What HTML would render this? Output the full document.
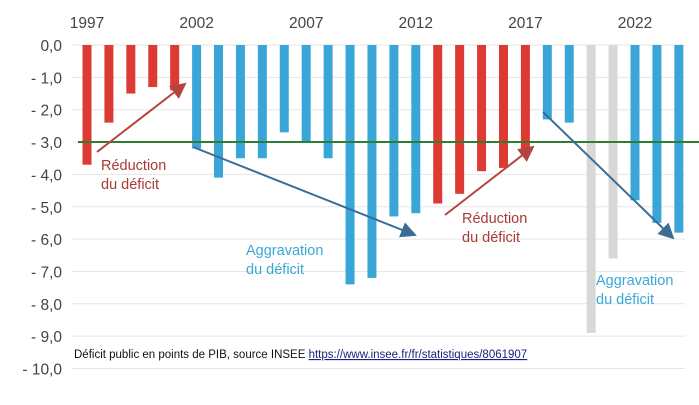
<!DOCTYPE html><html><head><meta charset="utf-8"><style>body{margin:0;background:#fff}svg{font-family:"Liberation Sans",sans-serif}</style></head><body>
<svg width="699" height="400" id="c">
<defs>
<marker id="ar" markerWidth="8" markerHeight="8" refX="7" refY="4" orient="auto"><path d="M0,0 L8,4 L0,8 z" fill="#b5443f"/></marker>
<marker id="ab" markerWidth="8" markerHeight="8" refX="7" refY="4" orient="auto"><path d="M0,0 L8,4 L0,8 z" fill="#3a6d96"/></marker>
</defs>
<g id="grid"></g><g id="bars"></g>
<line x1="78" x2="699" y1="142" y2="142" stroke="#2e7d32" stroke-width="2"/>
<line x1="97" y1="152" x2="185" y2="84" stroke="#b5443f" stroke-width="2" marker-end="url(#ar)"/>
<line x1="193" y1="147" x2="415" y2="235" stroke="#3a6d96" stroke-width="2" marker-end="url(#ab)"/>
<line x1="445" y1="215" x2="533" y2="147" stroke="#b5443f" stroke-width="2" marker-end="url(#ar)"/>
<line x1="543" y1="112" x2="673" y2="238" stroke="#3a6d96" stroke-width="2" marker-end="url(#ab)"/>
<g font-size="14.5">
<text x="101" y="170" fill="#a83a35">Réduction<tspan x="101" dy="19">du déficit</tspan></text>
<text x="246" y="255" fill="#3aa8d5">Aggravation<tspan x="246" dy="19">du déficit</tspan></text>
<text x="462" y="223" fill="#a83a35">Réduction<tspan x="462" dy="19">du déficit</tspan></text>
<text x="596" y="285" fill="#3aa8d5">Aggravation<tspan x="596" dy="19">du déficit</tspan></text>
</g>
<text x="74" y="358" font-size="11.5" fill="#111">Déficit public en points de PIB, source INSEE <tspan fill="#1a237e" text-decoration="underline">https://www.insee.fr/fr/statistiques/8061907</tspan></text>
</svg>
<script>
const years=[1997,1998,1999,2000,2001,2002,2003,2004,2005,2006,2007,2008,2009,2010,2011,2012,2013,2014,2015,2016,2017,2018,2019,2020,2021,2022,2023,2024];
const values=[-3.7,-2.4,-1.5,-1.3,-1.4,-3.2,-4.1,-3.5,-3.5,-2.7,-3.0,-3.5,-7.4,-7.2,-5.3,-5.2,-4.9,-4.6,-3.9,-3.8,-3.4,-2.3,-2.4,-8.9,-6.6,-4.8,-5.5,-5.8];
const groups=["r","r","r","r","r","b","b","b","b","b","b","b","b","b","b","b","r","r","r","r","r","b","b","g","g","b","b","b"];
const yTicks=[0,-1,-2,-3,-4,-5,-6,-7,-8,-9,-10];
const tickLabels=["0,0","- 1,0","- 2,0","- 3,0","- 4,0","- 5,0","- 6,0","- 7,0","- 8,0","- 9,0","- 10,0"];
const yearLabels=[1997,2002,2007,2012,2017,2022];
const NS="http://www.w3.org/2000/svg";
const y=v=>45-v*32.35;
const x=yr=>87+(yr-1997)*21.92;
const col={r:"#dc3a32",b:"#3aa6d8",g:"#d8d8d8"};
const svg=document.getElementById('c'),grid=document.getElementById('grid'),bars=document.getElementById('bars');
function mk(t,a,p){const e=document.createElementNS(NS,t);for(const k in a)e.setAttribute(k,a[k]);p.appendChild(e);return e;}
yTicks.forEach((v,i)=>{
 const l=mk('line',{x1:72,x2:685,y1:y(v),y2:y(v),stroke:"#e6e6e6","stroke-width":1},grid);
 
 
 const t=mk('text',{x:62,y:y(v)+6,"text-anchor":"end","font-size":"15.5",fill:"#444"},svg);
 t.textContent=tickLabels[i];
 
 
});
yearLabels.forEach(yr=>{
 const t=mk('text',{x:x(yr),y:28,"text-anchor":"middle","font-size":"15.5",fill:"#444"},svg);
 t.textContent=yr;
 
 
});
years.forEach((yr,i)=>{
 const b=mk('rect',{x:x(yr)-4.5,y:y(0),width:9,height:y(values[i])-y(0),fill:col[groups[i]]},bars);
 
 
});
</script>
</body></html>
